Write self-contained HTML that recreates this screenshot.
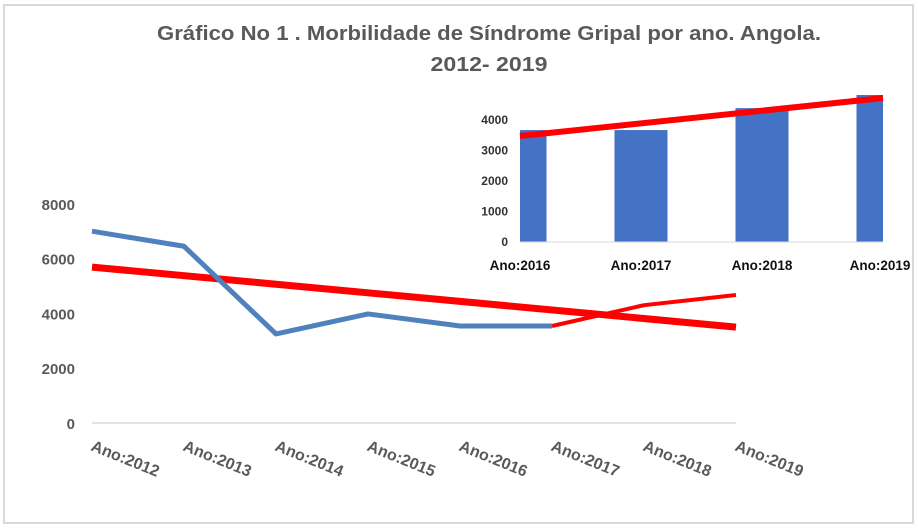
<!DOCTYPE html>
<html><head><meta charset="utf-8"><style>
html,body{margin:0;padding:0;background:#fff;}
svg{display:block;font-family:"Liberation Sans",sans-serif;}
</style></head><body>
<svg id="chart" width="918" height="530">
<rect x="4" y="5" width="909" height="518" fill="#fff" stroke="#d9d9d9" stroke-width="2"/>
<text x="489" y="40" text-anchor="middle" font-size="20" font-weight="bold" fill="#595959" textLength="664" lengthAdjust="spacingAndGlyphs">Gráfico No 1 . Morbilidade de Síndrome Gripal por ano. Angola.</text>
<text x="489" y="71" text-anchor="middle" font-size="20" font-weight="bold" fill="#595959" textLength="117" lengthAdjust="spacingAndGlyphs">2012- 2019</text>
<g id="main"></g>
<g id="inset"></g>
</svg>
<script>
const years = ["Ano:2012","Ano:2013","Ano:2014","Ano:2015","Ano:2016","Ano:2017","Ano:2018","Ano:2019"];
const casesHist = [7000, 6450, 3250, 3980, 3540, 3540, null, null];
const casesRecent = [null, null, null, null, null, 3540, 4300, 4670];
const trendMain = [5690, 3500];
const yTicks = [0, 2000, 4000, 6000, 8000];
const insetYears = ["Ano:2016","Ano:2017","Ano:2018","Ano:2019"];
const insetValues = [3670, 3670, 4390, 4820];
const insetTrend = [3475, 4720];
const insetTicks = [0, 1000, 2000, 3000, 4000];

const NS = "http://www.w3.org/2000/svg";
function mk(tag, attrs, parent, txt) {
  const e = document.createElementNS(NS, tag);
  for (const k in attrs) e.setAttribute(k, attrs[k]);
  if (txt !== undefined) e.textContent = txt;
  parent.appendChild(e);
  return e;
}
const main = document.getElementById('main');
const mx = i => 92 + i * 92;
const my = v => 423 - v * 27.4 / 1000;
yTicks.forEach(t => {
  const el = mk('text', {x: 75, y: my(t) + 6, 'text-anchor': 'end', 'font-size': 15, 'font-weight': 'bold', fill: '#595959'}, main, String(t));
  
  
});
const axis = mk('line', {x1: 92, x2: 736, y1: my(0), y2: my(0), stroke: '#d9d9d9', 'stroke-width': 1.5}, main);


years.forEach((y, i) => {
  const el = mk('text', {x: mx(i) - 2, y: 450, 'font-size': 16, 'font-weight': 'bold', fill: '#595959', transform: `rotate(22 ${mx(i) - 2} 450)`}, main, y);
  
  
});
function pathOf(arr) {
  let d = '', first = true;
  arr.forEach((v, i) => { if (v === null) return; d += (first ? 'M' : 'L') + mx(i) + ',' + my(v); first = false; });
  return d;
}
const trend = mk('line', {x1: mx(0), y1: my(trendMain[0]), x2: mx(7), y2: my(trendMain[1]), stroke: '#ff0000', 'stroke-width': 7}, main);


const hist = mk('path', {d: pathOf(casesHist), fill: 'none', stroke: '#4f81bd', 'stroke-width': 5, 'stroke-linejoin': 'round'}, main);


const rec = mk('path', {d: pathOf(casesRecent), fill: 'none', stroke: '#ff0000', 'stroke-width': 4, 'stroke-linejoin': 'round'}, main);



const inset = document.getElementById('inset');
const ix = i => 520 + i * 121;
const iy = v => 242 - v * 30.5 / 1000;
mk('clipPath', {id: 'ic'}, inset);
mk('rect', {x: 520, y: 80, width: 363, height: 170}, inset.lastChild);
insetTicks.forEach(t => {
  const el = mk('text', {x: 508, y: iy(t) + 4, 'text-anchor': 'end', 'font-size': 12, 'font-weight': 'bold', fill: '#333'}, inset, String(t));
  
  
});
const bg = mk('g', {'clip-path': 'url(#ic)'}, inset);
insetValues.forEach((v, i) => {
  const el = mk('rect', {x: ix(i) - 26.5, y: iy(v), width: 53, height: iy(0) - iy(v), fill: '#4472c4'}, bg);
  
  
});
const ia = mk('line', {x1: 520, x2: 883, y1: iy(0), y2: iy(0), stroke: '#d9d9d9', 'stroke-width': 1}, inset);


const it = mk('line', {x1: 520, y1: iy(insetTrend[0]), x2: 883, y2: iy(insetTrend[1]), stroke: '#ff0000', 'stroke-width': 6}, inset);


insetYears.forEach((y, i) => {
  const el = mk('text', {x: Math.min(ix(i), 880), y: 270, 'text-anchor': 'middle', 'font-size': 13.5, 'font-weight': 'bold', fill: '#111'}, inset, y);
  
  
});
</script>
</body></html>
